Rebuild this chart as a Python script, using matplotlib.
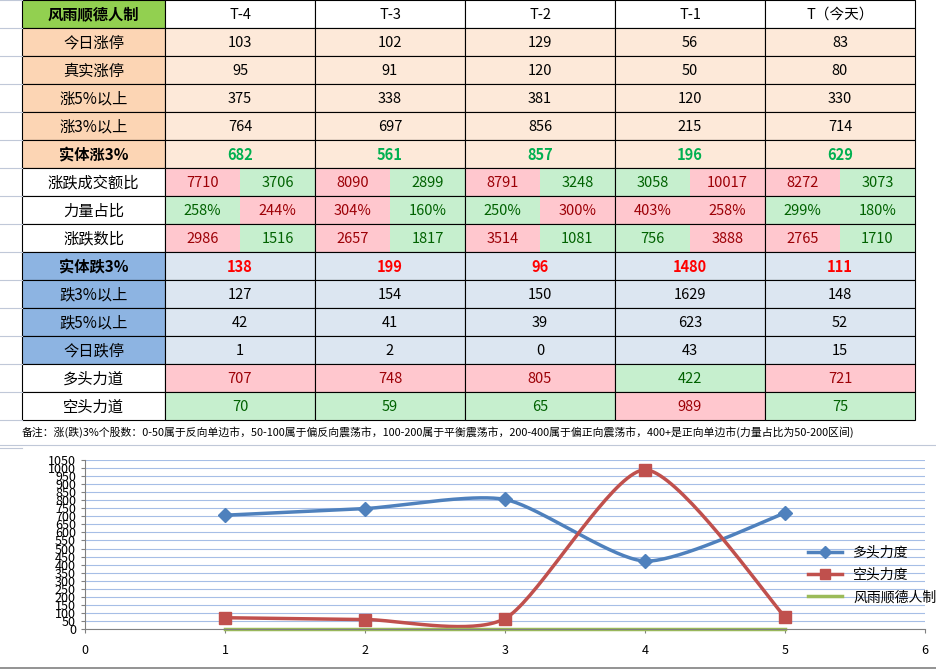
import matplotlib
matplotlib.use("Agg")
import matplotlib.pyplot as plt
import numpy as np
from matplotlib.patches import Rectangle

plt.rcParams['font.family'] = ['Noto Sans CJK SC', 'DejaVu Sans']

cols = ["T-4", "T-3", "T-2", "T-1", "T（今天）"]
up_limit = [103, 102, 129, 56, 83]
real_up = [95, 91, 120, 50, 80]
up5 = [375, 338, 381, 120, 330]
up3 = [764, 697, 856, 215, 714]
body_up3 = [682, 561, 857, 196, 629]
amount_up = [7710, 8090, 8791, 3058, 8272]
amount_dn = [3706, 2899, 3248, 10017, 3073]
power_a = ["258%", "304%", "250%", "403%", "299%"]
power_b = ["244%", "160%", "300%", "258%", "180%"]
count_up = [2986, 2657, 3514, 756, 2765]
count_dn = [1516, 1817, 1081, 3888, 1710]
body_dn3 = [138, 199, 96, 1480, 111]
dn3 = [127, 154, 150, 1629, 148]
dn5 = [42, 41, 39, 623, 52]
dn_limit = [1, 2, 0, 43, 15]
bull = [707, 748, 805, 422, 721]
bear = [70, 59, 65, 989, 75]
x_days = [1, 2, 3, 4, 5]
maker_line = [0, 0, 0, 0, 0]
note = "备注：涨(跌)3%个股数：0-50属于反向单边市，50-100属于偏反向震荡市，100-200属于平衡震荡市，200-400属于偏正向震荡市，400+是正向单边市(力量占比为50-200区间)"

PINK, GREEN = '#FFC7CE', '#C6EFCE'
TRED, TGRN = '#9C0006', '#006100'
split_colors = {
    'amount': ['pg', 'pg', 'pg', 'gp', 'pg'],
    'power': ['gp', 'pg', 'gp', 'pp', 'gg'],
    'count': ['pg', 'pg', 'pg', 'gp', 'pg'],
}

fig = plt.figure(figsize=(9.36, 6.71), dpi=100)
ax = fig.add_axes([0, 0, 1, 1])
ax.set_xlim(0, 936); ax.set_ylim(671, 0); ax.axis('off')

colx = [22, 165, 315, 465, 615, 765, 915]
rowh = 28
top = 0
for i in range(17):
    ax.plot([0, 22], [i * rowh, i * rowh], color='#C0C8D8', lw=0.8)

def cell(x0, x1, r, bg, text, color='black', size=10.5, weight='normal', style='normal'):
    y0 = top + r * rowh
    ax.add_patch(Rectangle((x0, y0), x1 - x0, rowh, facecolor=bg, edgecolor='black', lw=0.8))
    ax.text((x0 + x1) / 2, y0 + rowh / 2 + 1, text, ha='center', va='center', color=color,
            fontsize=size, fontweight=weight, fontstyle=style)

cell(colx[0], colx[1], 0, '#92D050', "风雨顺德人制", size=11, weight='bold')
for j, c in enumerate(cols):
    cell(colx[j + 1], colx[j + 2], 0, 'white', c)

def simple_row(r, label, vals, lbg, dbg, color='black', weight='normal', style='normal', lcolor='black'):
    cell(colx[0], colx[1], r, lbg, label, color=lcolor, weight=weight, style=style, size=11)
    for j, v in enumerate(vals):
        cell(colx[j + 1], colx[j + 2], r, dbg, str(v), color=color, weight=weight, style=style)

OL, OD = '#FCD5B4', '#FDE9D9'
BL, BD = '#8DB4E2', '#DCE6F1'
simple_row(1, "今日涨停", up_limit, OL, OD)
simple_row(2, "真实涨停", real_up, OL, OD)
simple_row(3, "涨5%以上", up5, OL, OD)
simple_row(4, "涨3%以上", up3, OL, OD)
simple_row(5, "实体涨3%", body_up3, OL, OD, color='#00B050', weight='bold', style='italic')

def split_row(r, label, a, b, key):
    cell(colx[0], colx[1], r, 'white', label, size=11)
    for j in range(5):
        xm = (colx[j + 1] + colx[j + 2]) / 2
        for k, (x0, x1, v) in enumerate([(colx[j + 1], xm, a[j]), (xm, colx[j + 2], b[j])]):
            c = split_colors[key][j][k]
            y0 = top + r * rowh
            ax.add_patch(Rectangle((x0, y0), x1 - x0, rowh,
                                   facecolor=PINK if c == 'p' else GREEN, edgecolor='none'))
            ax.text((x0 + x1) / 2, y0 + rowh / 2 + 1, str(v), ha='center', va='center',
                    color=TRED if c == 'p' else TGRN, fontsize=10.5)
        ax.add_patch(Rectangle((colx[j + 1], top + r * rowh), colx[j + 2] - colx[j + 1], rowh,
                               facecolor='none', edgecolor='black', lw=0.8))

split_row(6, "涨跌成交额比", amount_up, amount_dn, 'amount')
split_row(7, "力量占比", power_a, power_b, 'power')
split_row(8, "涨跌数比", count_up, count_dn, 'count')
simple_row(9, "实体跌3%", body_dn3, BL, BD, color='#FF0000', weight='bold', style='italic')
simple_row(10, "跌3%以上", dn3, BL, BD)
simple_row(11, "跌5%以上", dn5, BL, BD)
simple_row(12, "今日跌停", dn_limit, BL, BD)
cell(colx[0], colx[1], 13, 'white', "多头力道", size=11)
cell(colx[0], colx[1], 14, 'white', "空头力道", size=11)
for j in range(5):
    cell(colx[j + 1], colx[j + 2], 13, GREEN if j == 3 else PINK, str(bull[j]), color=TGRN if j == 3 else TRED)
    cell(colx[j + 1], colx[j + 2], 14, PINK if j == 3 else GREEN, str(bear[j]), color=TRED if j == 3 else TGRN)

ax.text(22, 432, note, ha='left', va='center', fontsize=7.8)
ax.plot([0, 936], [445, 445], color='#C0C8D8', lw=0.8)
ax.plot([0, 936], [668, 668], color='#808080', lw=1.2)

cax = fig.add_axes([85 / 936, 1 - 629 / 671, 840 / 936, 169 / 671])
cax.set_xlim(0, 6); cax.set_ylim(0, 1050)
cax.set_yticks(np.arange(0, 1051, 50))
cax.set_xticks(range(7))
cax.grid(axis='y', color='#A6BEE6', lw=0.8)
for s in ['top', 'right']:
    cax.spines[s].set_visible(False)
for s in ['left', 'bottom']:
    cax.spines[s].set_color('#808080')
cax.tick_params(labelsize=9, length=3, colors='#808080', labelcolor='black')
cax.tick_params(axis='x', pad=8)

def smooth(xs, ys, n=40, tension=0.35):
    xs = np.array(xs, float); ys = np.array(ys, float)
    P = np.column_stack([xs, ys])
    P = np.vstack([P[0], P, P[-1]])
    out = []
    for i in range(1, len(P) - 2):
        p0, p1, p2, p3 = P[i - 1], P[i], P[i + 1], P[i + 2]
        m1 = tension * (p2 - p0); m2 = tension * (p3 - p1)
        t = np.linspace(0, 1, n)[:, None]
        h00 = 2 * t**3 - 3 * t**2 + 1; h10 = t**3 - 2 * t**2 + t
        h01 = -2 * t**3 + 3 * t**2; h11 = t**3 - t**2
        out.append(h00 * p1 + h10 * m1 + h01 * p2 + h11 * m2)
    o = np.vstack(out)
    return o[:, 0], o[:, 1]

sx, sy = smooth(x_days, bull)
cax.plot(sx, sy, color='#4F81BD', lw=2.5, clip_on=False)
cax.plot(x_days, bull, 'D', color='#4F81BD', ms=7, clip_on=False)
sx, sy = smooth(x_days, bear)
cax.plot(sx, sy, color='#C0504D', lw=2.5, clip_on=False)
cax.plot(x_days, bear, 's', color='#C0504D', ms=8, clip_on=False)
cax.plot(x_days, maker_line, color='#9BBB59', lw=2.5, clip_on=False)

from matplotlib.lines import Line2D
h = [Line2D([], [], color='#4F81BD', lw=2.5, marker='D', ms=6),
     Line2D([], [], color='#C0504D', lw=2.5, marker='s', ms=7),
     Line2D([], [], color='#9BBB59', lw=2.5)]
fig.legend(h, ["多头力度", "空头力度", "风雨顺德人制作"], loc='upper left',
           bbox_to_anchor=(795 / 936, 1 - 533 / 671), frameon=False, fontsize=10,
           handlelength=2.5, labelspacing=0.6)

fig.savefig("out.png", dpi=100)
